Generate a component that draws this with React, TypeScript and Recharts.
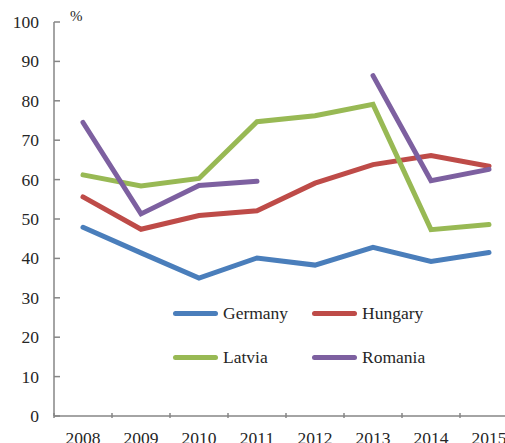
import React from 'react'
import { LineChart, Line, XAxis, YAxis } from 'recharts'

const years = ['2008', '2009', '2010', '2011', '2012', '2013', '2014', '2015']
const germany = [47.9, 41.4, 35.0, 40.1, 38.3, 42.8, 39.2, 41.5]
const hungary = [55.6, 47.4, 50.9, 52.1, 59.1, 63.8, 66.1, 63.4]
const latvia = [61.2, 58.4, 60.3, 74.7, 76.2, 79.1, 47.3, 48.6]
const romania = [74.5, 51.3, 58.5, 59.6, null, 86.4, 59.7, 62.6]
const yTicks = [0, 10, 20, 30, 40, 50, 60, 70, 80, 90, 100]

const series = [
  { name: 'Germany', color: '#4A7EBB' },
  { name: 'Hungary', color: '#BE4B48' },
  { name: 'Latvia', color: '#98B954' },
  { name: 'Romania', color: '#7D60A0' },
]

const FONT = '"Liberation Serif", "DejaVu Serif", "Times New Roman", serif'
const TEXT = '#262626'
const AXIS = '#868686'
const HALF_STEP = 29

const data = years.map((year, i) => ({
  year,
  Germany: germany[i],
  Hungary: hungary[i],
  Latvia: latvia[i],
  Romania: romania[i],
}))

function YTick(props: any) {
  const { x, y, payload } = props
  return (
    <g>
      <line x1={x + 15} x2={x + 21} y1={y} y2={y} stroke={AXIS} strokeWidth={1.5} />
      <text x={x} y={y} dy={6} textAnchor="end" fill={TEXT} style={{ fontFamily: FONT, fontSize: 17.5 }}>
        {payload.value}
      </text>
    </g>
  )
}

function XTick(props: any) {
  const { x, y, payload } = props
  return (
    <g>
      <line x1={x - HALF_STEP} x2={x - HALF_STEP} y1={y} y2={y - 5} stroke={AXIS} strokeWidth={1.5} />
      <text x={x} y={y + 26} textAnchor="middle" fill={TEXT} style={{ fontFamily: FONT, fontSize: 17.5 }}>
        {payload.value}
      </text>
    </g>
  )
}

function LegendBox() {
  return (
    <div
      style={{
        position: 'absolute',
        left: 173,
        top: 302,
        display: 'grid',
        gridTemplateColumns: '139px 140px',
        rowGap: 22,
      }}
    >
      {series.map((s) => (
        <div key={s.name} style={{ display: 'flex', alignItems: 'center', height: 22 }}>
          <span
            style={{
              display: 'inline-block',
              width: 45,
              height: 5,
              borderRadius: 3,
              background: s.color,
              marginRight: 5,
            }}
          />
          <span style={{ fontFamily: FONT, fontSize: 17.5, color: TEXT }}>{s.name}</span>
        </div>
      ))}
    </div>
  )
}

export default function App() {
  return (
    <div
      style={{
        position: 'absolute',
        left: 0,
        top: 0,
        width: 505,
        height: 443,
        overflow: 'hidden',
        background: '#fff',
        fontFamily: FONT,
      }}
    >
      <span style={{ position: 'absolute', left: 70, top: 8, fontFamily: FONT, fontSize: 15, color: TEXT }}>%</span>
      <LineChart width={518} height={443} data={data} margin={{ top: 22, right: 0, bottom: 0, left: 0 }}>
        <XAxis
          dataKey="year"
          padding={{ left: HALF_STEP, right: HALF_STEP }}
          height={27}
          tickSize={0}
          tickLine={false}
          axisLine={{ stroke: AXIS, strokeWidth: 1.5 }}
          tick={<XTick />}
          interval={0}
        />
        <YAxis
          domain={[0, 100]}
          ticks={yTicks}
          width={54}
          tickSize={0}
          tickMargin={15}
          tickLine={false}
          axisLine={{ stroke: AXIS, strokeWidth: 1.5 }}
          tick={<YTick />}
          interval={0}
        />
        {series.map((s) => (
          <Line
            key={s.name}
            dataKey={s.name}
            type="linear"
            stroke={s.color}
            strokeWidth={5}
            strokeLinecap="round"
            dot={false}
            activeDot={false}
            connectNulls={false}
            isAnimationActive={false}
          />
        ))}
      </LineChart>
      <LegendBox />
    </div>
  )
}
